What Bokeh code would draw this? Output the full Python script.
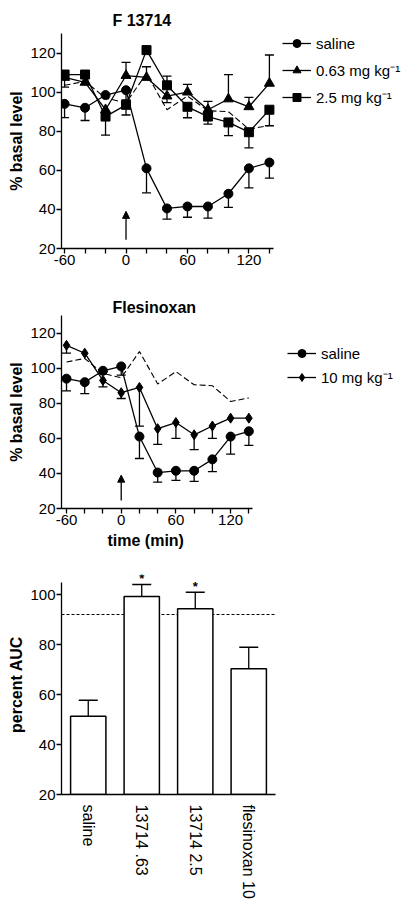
from bokeh.plotting import figure
from bokeh.layouts import column
from bokeh.models import (FixedTicker, Legend, LegendItem, Arrow, NormalHead,
                          Span, FactorRange, Title)
from bokeh.core.properties import value
from bokeh.embed import file_html
from bokeh.resources import INLINE

# ---------------- data ----------------
time_min = [-60, -40, -20, 0, 20, 40, 60, 80, 100, 120, 140]
x_major_ticks = [-60, 0, 60, 120]
x_minor_ticks = [-40, -20, 20, 40, 80, 100, 140]
y_ticks = [20, 40, 60, 80, 100, 120]

saline = [94, 92, 98.5, 101, 61, 40.5, 41.5, 41.5, 48, 61, 64]
saline_err_up = [0, 0, 0, 0, 0, 0, 0, 0, 0, 0, 0]
saline_err_down = [7, 6.5, 0, 5, 12.5, 5.5, 5.5, 6, 7, 10, 8]

f13714_063 = [107.5, 105, 91, 108.5, 107.5, 98, 100, 91, 96.5, 92.5, 104.5]
f13714_063_err_up = [0, 0, 0, 6.7, 5.5, 0, 4, 4.3, 12.5, 4.8, 14.5]
f13714_063_err_down = [0, 0, 0, 0, 0, 3.4, 0, 0, 0, 0, 0]

f13714_25 = [109, 109, 87.5, 93.5, 121.5, 103.5, 92.5, 87.5, 84.5, 79.5, 91]
f13714_25_err_up = [0, 0, 0, 0, 0, 4.7, 0, 0, 0, 0, 0]
f13714_25_err_down = [6.4, 0, 9.5, 5.2, 0, 0, 5.6, 3.9, 6.8, 8, 8.2]

reference_dashed = [103.5, 105.5, 97, 94.5, 109.5, 91, 98, 90.5, 90, 81, 83]

flesinoxan_10 = [113, 108.5, 93, 86, 89, 65.5, 69, 62, 67, 71.5, 71.5]
flesinoxan_10_err_up = [0, 0, 0, 0, 0, 0, 0, 0, 0, 0, 0]
flesinoxan_10_err_down = [4.5, 0, 3.7, 3.3, 22, 9, 9, 8.5, 7, 0, 0]

injection_time = 0
arrow_from, arrow_to = 24.5, 39

bar_groups = ["saline", "13714 .63", "13714 2.5", "flesinoxan 10"]
auc_percent = [51.3, 99.2, 94.3, 70.3]
auc_err = [6.4, 4.8, 6.6, 8.6]
auc_sig = ["", "*", "*", ""]
auc_reference = 92.0
auc_ticks = [20, 40, 60, 80, 100]

FONT = "Liberation Sans"
LW = 1.3
FIG_W = 417


def base_fig(**kw):
    p = figure(output_backend="svg", toolbar_location=None, **kw)
    p.xgrid.visible = False
    p.ygrid.visible = False
    p.outline_line_color = None
    p.background_fill_color = "white"
    p.border_fill_color = "white"
    for ax in (p.xaxis[0], p.yaxis[0]):
        ax.axis_line_width = LW
        ax.axis_line_color = "black"
        ax.major_tick_line_width = LW
        ax.minor_tick_line_width = LW
        ax.major_tick_in = 0
        ax.major_tick_out = 5
        ax.minor_tick_in = 0
        ax.minor_tick_out = 5
        ax.major_label_text_font = FONT
        ax.major_label_text_font_size = "15px"
        ax.major_label_text_color = "black"
        ax.major_label_standoff = 1
        ax.axis_label_text_font = FONT
        ax.axis_label_text_font_size = "16px"
        ax.axis_label_text_font_style = "bold"
        ax.axis_label_text_color = "black"
        ax.axis_label_standoff = 2
    p.yaxis.minor_tick_line_color = None
    p.title.text_font = FONT
    p.title.text_font_size = "16px"
    p.title.text_font_style = "bold"
    p.title.text_color = "black"
    p.title.align = "left"
    return p


def error_bars(p, x, y, up, down, cap):
    xs, y0, y1 = [], [], []
    for xi, yi, u, d in zip(x, y, up, down):
        if u:
            xs.append(xi); y0.append(yi); y1.append(yi + u)
        if d:
            xs.append(xi); y0.append(yi); y1.append(yi - d)
    p.segment(x0=xs, y0=y0, x1=xs, y1=y1, line_color="black", line_width=LW)
    p.scatter(x=xs, y=y1, marker="dash", size=cap, line_color="black", line_width=LW)


def series(p, x, y, up, down, marker, size):
    ln = p.line(x, y, line_color="black", line_width=LW)
    error_bars(p, x, y, up, down, 9)
    sc = p.scatter(x, y, marker=marker, size=size, fill_color="black", line_color="black")
    return [ln, sc]


def time_axes(p, x0, x1):
    p.xaxis.ticker = FixedTicker(ticks=x_major_ticks, minor_ticks=x_minor_ticks)
    p.xaxis.major_label_overrides = {t: str(t) for t in x_major_ticks}
    p.xaxis.bounds = (x0, x1)
    p.yaxis.ticker = FixedTicker(ticks=y_ticks)
    p.yaxis.axis_label = "% basal level"


def make_legend(items, loc, spacing):
    return Legend(items=items, location=loc, padding=0, margin=0, spacing=spacing,
                  label_height=20, glyph_height=20, glyph_width=29, label_standoff=5,
                  border_line_color=None, background_fill_alpha=0,
                  label_text_font=FONT, label_text_font_size="15px",
                  label_text_color="black")


# ---------------- panel 1: F 13714 ----------------
# the axis spans -63..144 over 212 px; the frame is widened to hold the legend
L1, FW1 = 58, 212
x1_lo, x1_hi = -63, 144
FRAME1 = FIG_W - L1 - 1
x1_end = x1_lo + FRAME1 * (x1_hi - x1_lo) / FW1
p1 = base_fig(frame_width=FRAME1, frame_height=215,
              x_range=(x1_lo, x1_end), y_range=(20, 130),
              min_border_left=L1, min_border_right=1,
              min_border_top=33, min_border_bottom=30)
p1.title.text = "F 13714"
p1.title.offset = 51
p1.title.standoff = 10
time_axes(p1, x1_lo, x1_hi)
p1.line(time_min, reference_dashed, line_color="black", line_width=1.1, line_dash="6 3")
r_sal1 = series(p1, time_min, saline, saline_err_up, saline_err_down, "circle", 9)
r_063 = series(p1, time_min, f13714_063, f13714_063_err_up, f13714_063_err_down, "triangle", 10)
r_25 = series(p1, time_min, f13714_25, f13714_25_err_up, f13714_25_err_down, "square", 9)
p1.add_layout(Arrow(end=NormalHead(size=7, fill_color="black", line_color="black", line_width=1),
                    x_start=injection_time, y_start=arrow_from,
                    x_end=injection_time, y_end=arrow_to, line_width=LW))
p1.add_layout(make_legend([
    LegendItem(label="saline", renderers=r_sal1),
    LegendItem(label="0.63 mg kg\u207b\u00b9", renderers=r_063),
    LegendItem(label="2.5 mg kg\u207b\u00b9", renderers=r_25),
], (225, 141), 7))

# ---------------- panel 2: Flesinoxan ----------------
L2, FW2 = 61, 191
x2_lo, x2_hi = -65.5, 144
FRAME2 = FIG_W - L2 - 1
x2_end = x2_lo + FRAME2 * (x2_hi - x2_lo) / FW2
p2 = base_fig(frame_width=FRAME2, frame_height=193,
              x_range=(x2_lo, x2_end), y_range=(20, 130),
              min_border_left=L2, min_border_right=1,
              min_border_top=37, min_border_bottom=50)
p2.title.text = "Flesinoxan"
p2.title.offset = 51
p2.title.standoff = 0
time_axes(p2, x2_lo, x2_hi)
p2.add_layout(Title(text="time (min)", align="left", offset=46, standoff=4,
                    text_font=FONT, text_font_size="16px", text_font_style="bold",
                    text_color="black"), "below")
p2.line(time_min, reference_dashed, line_color="black", line_width=1.1, line_dash="6 3")
r_sal2 = series(p2, time_min, saline, saline_err_up, saline_err_down, "circle", 9)
r_fl = series(p2, time_min, flesinoxan_10, flesinoxan_10_err_up, flesinoxan_10_err_down, "diamond", 10)
p2.add_layout(Arrow(end=NormalHead(size=7, fill_color="black", line_color="black", line_width=1),
                    x_start=injection_time, y_start=arrow_from,
                    x_end=injection_time, y_end=arrow_to, line_width=LW))
p2.add_layout(make_legend([
    LegendItem(label="saline", renderers=r_sal2),
    LegendItem(label="10 mg kg\u207b\u00b9", renderers=r_fl),
], (226, 120.7), 4))

# ---------------- panel 3: AUC bars ----------------
y3_hi = 105
p3 = base_fig(width=FIG_W, height=344, x_range=FactorRange(*bar_groups, range_padding=0),
              y_range=(auc_ticks[0], 108),
              min_border_left=60, min_border_right=142,
              min_border_top=16, min_border_bottom=108)
p3.yaxis.ticker = FixedTicker(ticks=auc_ticks)
p3.yaxis.bounds = (auc_ticks[0], y3_hi)
p3.yaxis.axis_label = "percent AUC"
p3.xaxis.major_tick_line_color = None
p3.xaxis.major_label_orientation = "vertical"
p3.xaxis.major_label_text_font_size = "16px"
p3.xaxis.major_label_standoff = 5
p3.add_layout(Span(location=auc_reference, dimension="width", line_color="black",
                   line_width=1.1, line_dash="3 2", level="underlay"))
p3.vbar(x=bar_groups, top=auc_percent, bottom=auc_ticks[0], width=0.66,
        fill_color="white", line_color="black", line_width=1.5)
error_bars(p3, bar_groups, auc_percent, auc_err, [0] * len(auc_err), 19)
sig_x = [g for g, s in zip(bar_groups, auc_sig) if s]
sig_y = [v + e for v, e, s in zip(auc_percent, auc_err, auc_sig) if s]
sig_t = [s for s in auc_sig if s]
p3.text(x=sig_x, y=sig_y, text=sig_t, text_align="center", text_baseline="middle",
        y_offset=-6, text_font=value(FONT), text_font_size="13px",
        text_font_style="bold", text_color="black")

layout = column(p1, p2, p3, spacing=0)
open("out.html", "w").write(file_html(layout, INLINE))
